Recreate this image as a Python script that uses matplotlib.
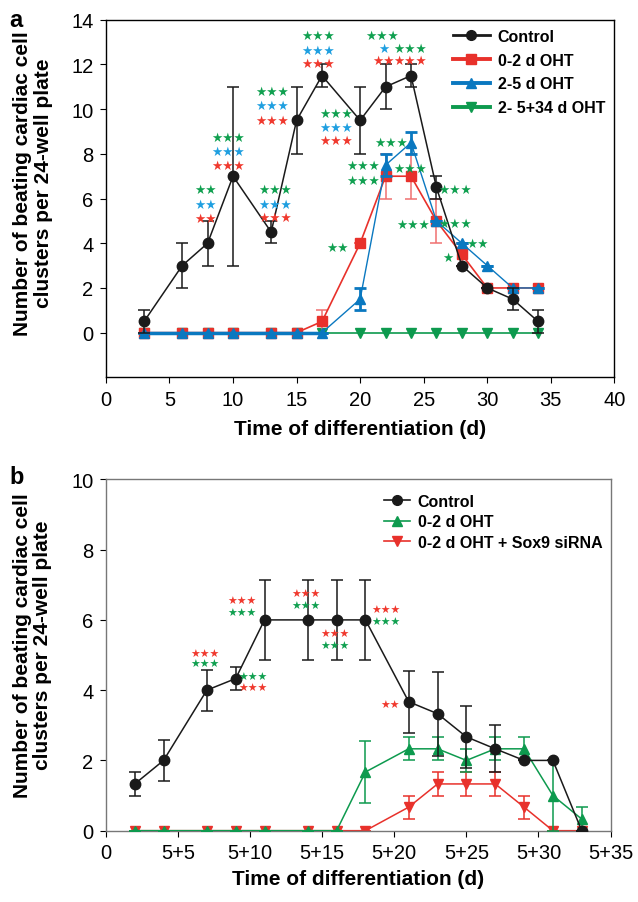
import matplotlib
matplotlib.use('Agg')
import matplotlib.pyplot as plt
from matplotlib.lines import Line2D

plt.rcParams['font.family'] = ['Liberation Sans', 'DejaVu Sans']

# Panel a data
days_a = [3, 6, 8, 10, 13, 15, 17, 20, 22, 24, 26, 28, 30, 32, 34]
control_a = [0.5, 3, 4, 7, 4.5, 9.5, 11.5, 9.5, 11, 11.5, 6.5, 3, 2, 1.5, 0.5]
control_a_err = [0.5, 1, 1, 4, 0.5, 1.5, 0.5, 1.5, 1, 0.5, 0.5, 0, 0, 0.5, 0.5]
oht02_a = [0, 0, 0, 0, 0, 0, 0.5, 4, 7, 7, 5, 3.5, 2, 2, 2]
oht02_a_err = [0, 0, 0, 0, 0, 0, 0.5, 0, 1, 1, 1, 0.5, 0, 0, 0]
oht25_a = [0, 0, 0, 0, 0, 0, 0, 1.5, 7.5, 8.5, 5, 4, 3, 2, 2]
oht25_a_err = [0, 0, 0, 0, 0, 0, 0, 0.5, 0.5, 0.5, 0, 0, 0, 0, 0]
oht2534_a = [0, 0, 0, 0, 0, 0, 0, 0, 0, 0, 0, 0, 0, 0, 0]

# Panel b data
days_b = [2, 4, 7, 9, 11, 14, 16, 18, 21, 23, 25, 27, 29, 31, 33]
control_b = [1.33, 2, 4, 4.33, 6, 6, 6, 6, 3.67, 3.33, 2.67, 2.33, 2, 2, 0]
control_b_err = [0.33, 0.58, 0.58, 0.33, 1.15, 1.15, 1.15, 1.15, 0.88, 1.2, 0.88, 0.67, 0, 0, 0]
oht_b = [0, 0, 0, 0, 0, 0, 0, 1.67, 2.33, 2.33, 2.0, 2.33, 2.33, 1.0, 0.33]
oht_b_err = [0, 0, 0, 0, 0, 0, 0, 0.88, 0.33, 0.33, 0.33, 0.33, 0.33, 1.0, 0.33]
sox9_b = [0, 0, 0, 0, 0, 0, 0, 0, 0.67, 1.33, 1.33, 1.33, 0.67, 0, 0]
sox9_b_err = [0, 0, 0, 0, 0, 0, 0, 0, 0.33, 0.33, 0.33, 0.33, 0.33, 0, 0]
xlabels_b = ['0', '5+5', '5+10', '5+15', '5+20', '5+25', '5+30', '5+35']

# colours
BLACK = '#1a1a1a'
RED = '#e8312b'
BLUE = '#0a78c0'
GREEN = '#0d9a4e'
STAR_RED = '#f0392e'
STAR_BLUE = '#1f9fe0'
STAR_GREEN = '#10a050'

# significance stars (x, y, text, colour)
stars_a = [
    (7.8, 6.4, '★★', STAR_GREEN), (7.8, 5.75, '★★', STAR_BLUE), (7.8, 5.1, '★★', STAR_RED),
    (9.6, 8.75, '★★★', STAR_GREEN), (9.6, 8.1, '★★★', STAR_BLUE), (9.6, 7.5, '★★★', STAR_RED),
    (13.3, 6.4, '★★★', STAR_GREEN), (13.3, 5.75, '★★★', STAR_BLUE), (13.3, 5.15, '★★★', STAR_RED),
    (13.1, 10.8, '★★★', STAR_GREEN), (13.1, 10.15, '★★★', STAR_BLUE), (13.1, 9.5, '★★★', STAR_RED),
    (16.7, 13.3, '★★★', STAR_GREEN), (16.7, 12.65, '★★★', STAR_BLUE), (16.7, 12.05, '★★★', STAR_RED),
    (18.1, 9.8, '★★★', STAR_GREEN), (18.1, 9.2, '★★★', STAR_BLUE), (18.1, 8.6, '★★★', STAR_RED),
    (20.2, 7.5, '★★★', STAR_GREEN), (20.2, 6.8, '★★★', STAR_GREEN),
    (21.7, 13.3, '★★★', STAR_GREEN), (21.9, 12.7, '★', STAR_BLUE), (21.8, 12.2, '★★', STAR_RED),
    (23.9, 12.7, '★★★', STAR_GREEN), (23.9, 12.2, '★★★', STAR_RED),
    (22.4, 8.5, '★★★', STAR_GREEN), (23.9, 7.35, '★★★', STAR_GREEN),
    (18.2, 3.8, '★★', STAR_GREEN), (24.2, 4.85, '★★★', STAR_GREEN),
    (27.5, 6.4, '★★★', STAR_GREEN), (27.5, 4.9, '★★★', STAR_GREEN),
    (29.2, 4.0, '★★', STAR_GREEN), (26.9, 3.35, '★', STAR_GREEN),
]
stars_b = [
    (6.9, 5.03, '★★★', STAR_RED), (6.9, 4.74, '★★★', STAR_GREEN),
    (10.2, 4.38, '★★★', STAR_GREEN), (10.2, 4.05, '★★★', STAR_RED),
    (9.4, 6.55, '★★★', STAR_RED), (9.4, 6.2, '★★★', STAR_GREEN),
    (13.9, 6.75, '★★★', STAR_RED), (13.9, 6.4, '★★★', STAR_GREEN),
    (15.9, 5.6, '★★★', STAR_RED), (15.9, 5.26, '★★★', STAR_GREEN),
    (19.4, 6.28, '★★★', STAR_RED), (19.4, 5.93, '★★★', STAR_GREEN),
    (19.7, 3.58, '★★', STAR_RED),
]

fig = plt.figure(figsize=(6.38, 9.03), dpi=100)
ax1 = fig.add_axes([0.166, 0.581, 0.797, 0.396])
ax2 = fig.add_axes([0.166, 0.079, 0.791, 0.389])

# ---- panel a ----
eb = dict(capsize=4, elinewidth=1.1, capthick=1.1)
ax1.errorbar(days_a, oht2534_a, color=GREEN, marker='v', ms=7, lw=1.2, zorder=2)
ax1.errorbar(days_a, oht02_a, yerr=oht02_a_err, color=RED, ecolor='#f07070', marker='s', ms=6.5,
             lw=1.2, zorder=3, **eb)
ax1.errorbar(days_a, oht25_a, yerr=oht25_a_err, color=BLUE, marker='^', ms=7.5, lw=1.0,
             zorder=4, capsize=4, elinewidth=2, capthick=2)
ax1.plot(days_a[:7], oht25_a[:7], color=BLUE, lw=2.5, zorder=4)
ax1.errorbar(days_a, control_a, yerr=control_a_err, color=BLACK, marker='o', ms=7.5, lw=1.1,
             zorder=5, **eb)

for x, y, t, c in stars_a:
    ax1.text(x, y, t, color=c, fontsize=9, ha='center', va='center',
             family=['DejaVu Sans'], zorder=6)

ax1.set_xlim(0, 40)
ax1.set_ylim(-2, 14)
ax1.set_xticks(range(0, 41, 5))
ax1.set_yticks(range(0, 15, 2))
ax1.tick_params(labelsize=14.5, length=4, width=0.8, pad=5)
ax1.set_xlabel('Time of differentiation (d)', fontsize=15, fontweight='bold', labelpad=7)
ax1.set_ylabel('Number of beating cardiac cell\nclusters per 24-well plate',
               fontsize=15, fontweight='bold', linespacing=1.1)
ax1.yaxis.set_label_coords(-0.105, 0.545)
for s in ax1.spines.values():
    s.set_linewidth(1.0)

handles_a = [
    Line2D([], [], color=BLACK, marker='o', ms=7, lw=2),
    Line2D([], [], color=RED, marker='s', ms=6.5, lw=2.8),
    Line2D([], [], color=BLUE, marker='^', ms=7, lw=2.8),
    Line2D([], [], color=GREEN, marker='v', ms=7, lw=2.8),
]
ax1.legend(handles_a, ['Control', '0-2 d OHT', '2-5 d OHT', '2- 5+34 d OHT'], loc='upper right',
           bbox_to_anchor=(1.01, 1.015), frameon=False, handlelength=2.3, handletextpad=0.5,
           prop={'weight': 'bold', 'size': 11.5}, labelspacing=0.55)

# ---- panel b ----
ax2.errorbar(days_b, sox9_b, yerr=sox9_b_err, color=RED, marker='v', ms=7, lw=1.1,
             zorder=2, **eb)
ax2.errorbar(days_b, oht_b, yerr=oht_b_err, color=GREEN, marker='^', ms=7, lw=1.1,
             zorder=3, **eb)
ax2.errorbar(days_b, control_b, yerr=control_b_err, color=BLACK, marker='o', ms=7.5, lw=1.1,
             zorder=4, **eb)

for x, y, t, c in stars_b:
    ax2.text(x, y, t, color=c, fontsize=7.8, ha='center', va='center',
             family=['DejaVu Sans'], zorder=6)

ax2.set_xlim(0, 35)
ax2.set_ylim(0, 10)
ax2.set_xticks(range(0, 36, 5))
ax2.set_xticklabels(xlabels_b)
ax2.set_yticks(range(0, 11, 2))
ax2.tick_params(labelsize=14.5, length=4, width=0.8, pad=5)
ax2.set_xlabel('Time of differentiation (d)', fontsize=15, fontweight='bold', labelpad=5)
ax2.set_ylabel('Number of beating cardiac cell\nclusters per 24-well plate',
               fontsize=15, fontweight='bold', linespacing=1.1)
ax2.yaxis.set_label_coords(-0.106, 0.53)
for s in ax2.spines.values():
    s.set_color('#777777')
    s.set_linewidth(1.0)

handles_b = [
    Line2D([], [], color=BLACK, marker='o', ms=7, lw=1.2),
    Line2D([], [], color=GREEN, marker='^', ms=7, lw=1.2),
    Line2D([], [], color=RED, marker='v', ms=7, lw=1.2),
]
ax2.legend(handles_b, ['Control', '0-2 d OHT', '0-2 d OHT + Sox9 siRNA'], loc='upper right',
           bbox_to_anchor=(1.012, 1.0), frameon=False, handlelength=1.6, handletextpad=0.5,
           prop={'weight': 'bold', 'size': 11.5}, labelspacing=0.35)

fig.text(0.015, 0.99, 'a', fontsize=17, fontweight='bold', va='top')
fig.text(0.015, 0.484, 'b', fontsize=17, fontweight='bold', va='top')

fig.savefig('out.png', dpi=100)
